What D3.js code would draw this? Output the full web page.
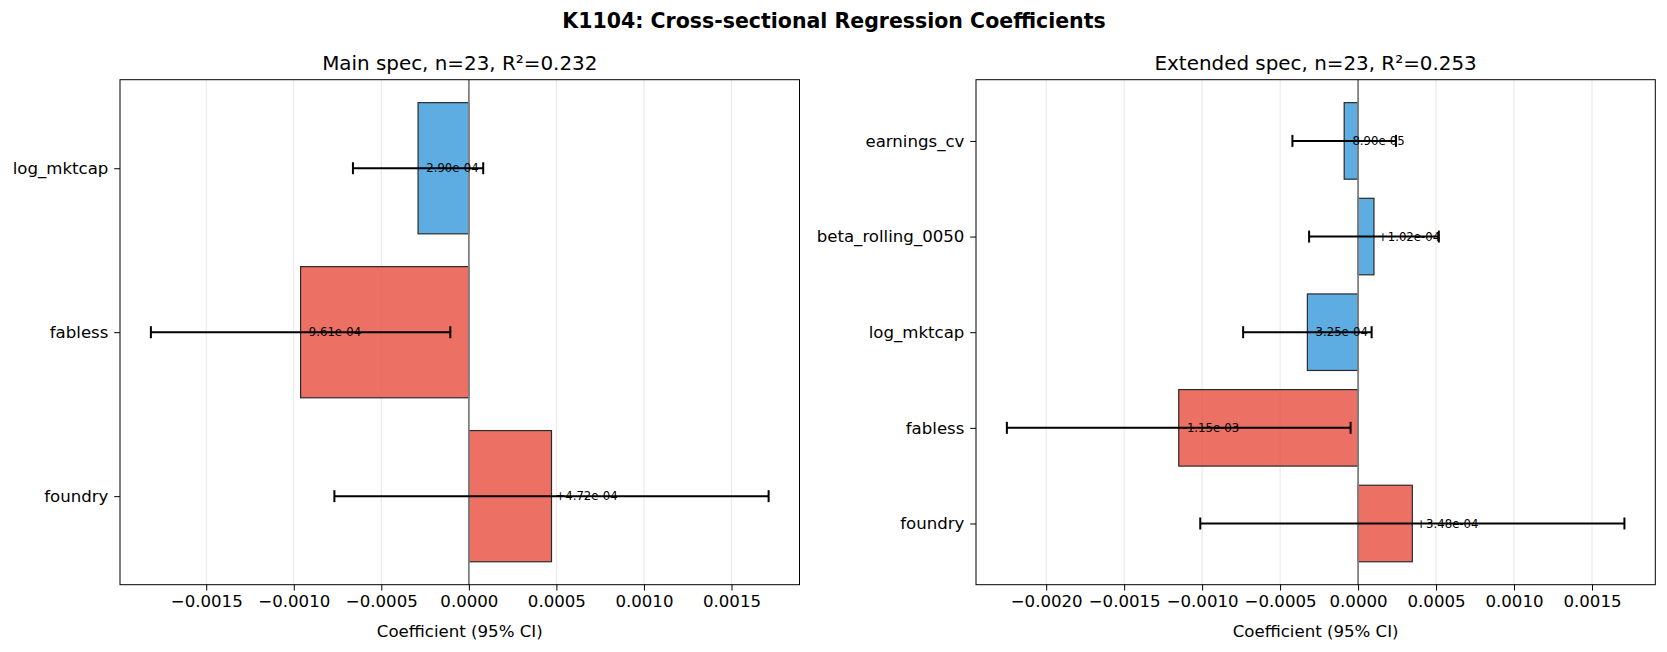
<!DOCTYPE html>
<html>
<head>
<meta charset="utf-8">
<script src="https://cdn.jsdelivr.net/npm/d3@7"></script>
<style>
  body { margin: 0; background: #fff; }
  text { font-family: "DejaVu Sans", sans-serif; }
</style>
</head>
<body>
<div id="chart"></div>
<script>
// values (bottom to top)
var mainVars = ["foundry", "fabless", "log_mktcap"];
var mainCoef = [4.72e-4, -9.61e-4, -2.90e-4];
var mainLow = [-7.68e-4, -1.816e-3, -6.62e-4];
var mainHigh = [1.712e-3, -1.06e-4, 8.2e-5];
var mainTicks = [-0.0015, -0.0010, -0.0005, 0, 0.0005, 0.0010, 0.0015];

var extVars = ["foundry", "fabless", "log_mktcap", "beta_rolling_0050", "earnings_cv"];
var extCoef = [3.48e-4, -1.15e-3, -3.25e-4, 1.02e-4, -8.90e-5];
var extLow = [-1.012e-3, -2.252e-3, -7.37e-4, -3.14e-4, -4.21e-4];
var extHigh = [1.708e-3, -4.8e-5, 8.7e-5, 5.18e-4, 2.43e-4];
var extTicks = [-0.0020, -0.0015, -0.0010, -0.0005, 0, 0.0005, 0.0010, 0.0015];

var industryVars = ["foundry", "fabless"];

var svgWidth = 1667;
var svgHeight = 652;
var plotTop = 79.7;
var plotBottom = 584.7;

var svg = d3.select("#chart")
  .append("svg")
  .attr("width", svgWidth)
  .attr("height", svgHeight);

svg.append("text")
  .attr("x", 834)
  .attr("y", 28)
  .attr("text-anchor", "middle")
  .style("font-size", "20.5px")
  .style("font-weight", "bold")
  .text("K1104: Cross-sectional Regression Coefficients");

function fmtCoef(v) {
  var s = Math.abs(v).toExponential(2);
  var parts = s.split("e");
  var ex = parseInt(parts[1], 10);
  var exStr = (ex < 0 ? "-" : "+") + String(Math.abs(ex)).padStart(2, "0");
  return (v < 0 ? "-" : "+") + parts[0] + "e" + exStr;
}

function drawPanel(x0, x1, title, vars, coef, low, high, ticks) {
  var n = vars.length;
  var lo = d3.min(low.concat([0]));
  var hi = d3.max(high.concat([0]));
  var pad = 0.05 * (hi - lo);
  var x = d3.scaleLinear().domain([lo - pad, hi + pad]).range([x0, x1]);
  var ySpan = (n - 1) + 0.8;
  var y = d3.scaleLinear()
    .domain([-0.4 - 0.05 * ySpan, n - 1 + 0.4 + 0.05 * ySpan])
    .range([plotBottom, plotTop]);

  var g = svg.append("g");

  // grid
  g.selectAll(".grid").data(ticks).enter().append("line")
    .attr("x1", d => x(d)).attr("x2", d => x(d))
    .attr("y1", plotTop).attr("y2", plotBottom)
    .attr("stroke", "#b0b0b0").attr("stroke-opacity", 0.3).attr("stroke-width", 1);

  // bars
  var bh = y(0) - y(0.8);
  g.selectAll(".bar").data(vars).enter().append("rect")
    .attr("x", (d, i) => x(Math.min(0, coef[i])))
    .attr("width", (d, i) => Math.abs(x(coef[i]) - x(0)))
    .attr("y", (d, i) => y(i + 0.4))
    .attr("height", bh)
    .attr("fill", d => industryVars.indexOf(d) >= 0 ? "#e74c3c" : "#3498db")
    .attr("fill-opacity", 0.8)
    .attr("stroke", "#2a2a2a")
    .attr("stroke-width", 1.2);

  // zero line
  g.append("line")
    .attr("x1", x(0)).attr("x2", x(0))
    .attr("y1", plotTop).attr("y2", plotBottom)
    .attr("stroke", "#808080").attr("stroke-width", 1.8);

  // coefficient labels
  g.selectAll(".lbl").data(vars).enter().append("text")
    .attr("x", (d, i) => x(coef[i]) + 4)
    .attr("y", (d, i) => y(i))
    .attr("dy", "0.35em")
    .style("font-size", "11.7px")
    .text((d, i) => fmtCoef(coef[i]));

  // error bars
  var eb = g.selectAll(".eb").data(vars).enter().append("g");
  eb.append("line")
    .attr("x1", (d, i) => x(low[i])).attr("x2", (d, i) => x(high[i]))
    .attr("y1", (d, i) => y(i)).attr("y2", (d, i) => y(i))
    .attr("stroke", "#000").attr("stroke-width", 2);
  eb.append("line")
    .attr("x1", (d, i) => x(low[i])).attr("x2", (d, i) => x(low[i]))
    .attr("y1", (d, i) => y(i) - 6).attr("y2", (d, i) => y(i) + 6)
    .attr("stroke", "#000").attr("stroke-width", 2);
  eb.append("line")
    .attr("x1", (d, i) => x(high[i])).attr("x2", (d, i) => x(high[i]))
    .attr("y1", (d, i) => y(i) - 6).attr("y2", (d, i) => y(i) + 6)
    .attr("stroke", "#000").attr("stroke-width", 2);

  // frame
  g.append("rect")
    .attr("x", x0).attr("y", plotTop)
    .attr("width", x1 - x0).attr("height", plotBottom - plotTop)
    .attr("fill", "none").attr("stroke", "#000").attr("stroke-width", 1);

  // axes
  var xAxis = g.append("g")
    .attr("transform", "translate(0," + plotBottom + ")")
    .call(d3.axisBottom(x).tickValues(ticks).tickFormat(d3.format(".4f"))
      .tickSizeOuter(0).tickSize(5.8).tickPadding(5));
  xAxis.select(".domain").remove();
  xAxis.selectAll("text").style("font-size", "16.6px").attr("fill", "#000")
    .style("font-family", "DejaVu Sans, sans-serif");

  var yAxis = g.append("g")
    .attr("transform", "translate(" + x0 + ",0)")
    .call(d3.axisLeft(y).tickValues(d3.range(n)).tickFormat(i => vars[i])
      .tickSizeOuter(0).tickSize(5.8).tickPadding(5.8));
  yAxis.select(".domain").remove();
  yAxis.selectAll("text").style("font-size", "16.6px").attr("fill", "#000")
    .style("font-family", "DejaVu Sans, sans-serif");

  g.append("text")
    .attr("x", (x0 + x1) / 2)
    .attr("y", 637)
    .attr("text-anchor", "middle")
    .style("font-size", "16.6px")
    .text("Coefficient (95% CI)");

  g.append("text")
    .attr("x", (x0 + x1) / 2)
    .attr("y", 70)
    .attr("text-anchor", "middle")
    .style("font-size", "19.9px")
    .text(title);
}

drawPanel(120, 799.5, "Main spec, n=23, R\u00b2=0.232", mainVars, mainCoef, mainLow, mainHigh, mainTicks);
drawPanel(976, 1655.3, "Extended spec, n=23, R\u00b2=0.253", extVars, extCoef, extLow, extHigh, extTicks);
</script>
</body>
</html>
